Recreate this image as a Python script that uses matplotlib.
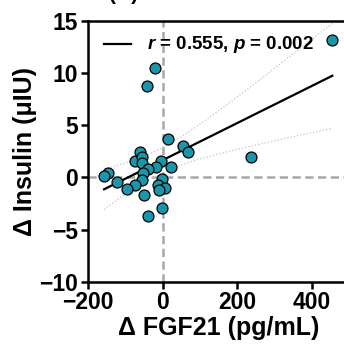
import numpy as np
import matplotlib
matplotlib.use("Agg")
import matplotlib.pyplot as plt

plt.rcParams['font.family'] = ['Liberation Sans', 'DejaVu Sans']
plt.rcParams['font.weight'] = 'bold'
plt.rcParams['mathtext.fontset'] = 'custom'
plt.rcParams['mathtext.it'] = 'Liberation Sans:bold:italic'
plt.rcParams['mathtext.rm'] = 'Liberation Sans:bold'

# data
fgf21 = [-20, -43, 14, 53, 68, -62, -73, -56, -56, -4, -19, 22, -40, -52,
         -146, -157, -123, -56, -1, -73, -97, -13, 5, -11, -50, -3, -40, 237, 454]
insulin = [10.5, 8.7, 3.7, 3.0, 2.4, 2.4, 1.6, 1.9, 1.35, 1.6, 0.95, 1.0, 0.75,
           0.4, 0.4, 0.1, -0.45, -0.3, -0.2, -0.75, -1.1, -0.75, -1.0, -1.2,
           -1.7, -2.9, -3.75, 1.9, 13.15]
r_text = r'$r$ = 0.555, $p$ = 0.002'
xticks = [-200, 0, 200, 400]
yticks = [-10, -5, 0, 5, 10, 15]

x = np.array(fgf21, float)
y = np.array(insulin, float)
teal = '#1a96aa'

fig = plt.figure(figsize=(3.44, 3.54), dpi=100)
ax = fig.add_axes([0.256, 0.2042, 0.76, 0.7373])

ax.axvline(0, color='#a8a8a8', lw=1.8, ls=(0, (3.3, 1.8)), zorder=1)
ax.axhline(0, color='#a8a8a8', lw=1.8, ls=(0, (3.3, 1.8)), zorder=1)

# linear fit + 95% confidence band
n = len(x)
slope, icpt = np.polyfit(x, y, 1)
resid = y - (slope * x + icpt)
s = np.sqrt(np.sum(resid ** 2) / (n - 2))
tval = 2.052
xl = np.linspace(x.min(), x.max(), 200)
yl = slope * xl + icpt
se = s * np.sqrt(1 / n + (xl - x.mean()) ** 2 / np.sum((x - x.mean()) ** 2))
ax.plot(xl, yl + tval * se, color='#c4c4c4', lw=0.9, ls=':', zorder=2)
ax.plot(xl, yl - tval * se, color='#c4c4c4', lw=0.9, ls=':', zorder=2)
ax.plot(xl, yl, color='black', lw=1.6, zorder=3)

ax.scatter(x, y, s=62, color=teal, edgecolors='black', linewidths=0.9,
           zorder=4, clip_on=False)

ax.set_xlim(-200, 500)
ax.set_ylim(-10, 15)
ax.set_xticks(xticks)
ax.set_yticks(yticks)
ax.spines['right'].set_visible(False)
for sp in ['left', 'bottom', 'top']:
    ax.spines[sp].set_linewidth(1.8)
ax.tick_params(width=1.8, length=5, labelsize=16.5, pad=2)
ax.tick_params(axis='x', top=False)
for lab in ax.get_xticklabels() + ax.get_yticklabels():
    lab.set_fontweight('bold')

ax.set_xlabel('Δ FGF21 (pg/mL)', fontsize=18, fontweight='bold', labelpad=1)
ax.set_ylabel('Δ Insulin (μIU)', fontsize=18, fontweight='bold', labelpad=2)

# legend row
ax.plot([0.06, 0.165], [0.91, 0.91], color='black', lw=1.6,
        transform=ax.transAxes, clip_on=False)
ax.text(0.225, 0.91, r_text, transform=ax.transAxes, fontsize=13.5,
        fontweight='bold', va='center', ha='left')

fig.text(0.36, 1.0, '(B)', ha='center', va='baseline', fontsize=15, fontweight='bold')

fig.savefig('out.png', dpi=100)
